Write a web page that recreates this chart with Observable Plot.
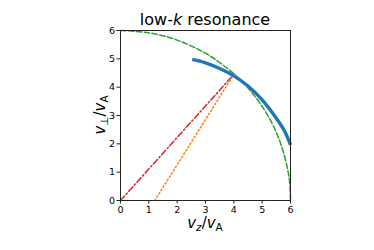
<!DOCTYPE html>
<html><head><meta charset="utf-8">
<script src="https://cdn.jsdelivr.net/npm/d3@7"></script>
<script src="https://cdn.jsdelivr.net/npm/@observablehq/plot@0.6"></script>
<style>body{margin:0;background:#fff;} svg{font-family:"DejaVu Sans",sans-serif;}</style>
</head><body>
<div id="chart"></div>
<script>
const ticks = [0, 1, 2, 3, 4, 5, 6];
const tickLabels = ["0", "1", "2", "3", "4", "5", "6"];
// green dashed quarter circle (vz, vperp)
const circleVz = [0, 1, 2, 3, 3.5, 4, 4.5, 5, 5.4, 5.7, 5.9, 5.97, 6];
const circleVp = [6, 5.92, 5.66, 5.2, 4.87, 4.47, 3.97, 3.32, 2.62, 1.87, 1.09, 0.65, 0];
// blue thick resonance curve
const blueVz = [2.53, 3, 3.5, 4, 4.5, 5, 5.5, 5.8, 6];
const blueVp = [4.98, 4.86, 4.66, 4.4, 4.04, 3.55, 2.9, 2.43, 1.96];
// red dash-dot line
const redVz = [0, 4.0];
const redVp = [0, 4.45];
// orange dotted line
const orangeVz = [1.21, 4.0];
const orangeVp = [0, 4.45];

const pts = (xs, ys) => xs.map((x, i) => ({x, y: ys[i]}));
const fmt = d => tickLabels[ticks.indexOf(d)];

const plot = Plot.plot({
  width: 374, height: 250,
  marginLeft: 120, marginRight: 84, marginTop: 30, marginBottom: 50,
  style: {fontFamily: "DejaVu Sans, sans-serif", fontSize: "9.5px", color: "#000", background: "#fff"},
  x: {domain: [0, 6], label: null},
  y: {domain: [0, 6], label: null},
  marks: [
    Plot.axisX({ticks: ticks, tickFormat: fmt, tickSize: 3.5, tickPadding: 2, label: null, stroke: "#222"}),
    Plot.axisY({ticks: ticks, tickFormat: fmt, tickSize: 3.5, tickPadding: 2, label: null, stroke: "#222"}),
    Plot.line(pts(circleVz, circleVp), {x: "x", y: "y", curve: "catmull-rom", stroke: "#2ca02c", strokeWidth: 1.5, strokeDasharray: "5.5,2.4"}),
    Plot.line(pts(redVz, redVp), {x: "x", y: "y", stroke: "#d62728", strokeWidth: 1.5, strokeDasharray: "6,2.4,1.5,2.4"}),
    Plot.line(pts(orangeVz, orangeVp), {x: "x", y: "y", stroke: "#ff7f0e", strokeWidth: 1.5, strokeDasharray: "1.5,2.4"}),
    Plot.line(pts(blueVz, blueVp), {x: "x", y: "y", curve: "catmull-rom", stroke: "#1f77b4", strokeWidth: 3.4, strokeLinecap: "butt"}),
    Plot.frame({stroke: "#222", strokeWidth: 1})
  ]
});
document.getElementById("chart").appendChild(plot);

const svg = d3.select(plot);
// title
const t = svg.append("text").attr("x", 205).attr("y", 25).attr("text-anchor", "middle")
  .attr("font-size", "16px").attr("fill", "#000");
t.append("tspan").text("low-");
t.append("tspan").attr("font-style", "italic").text("k");
t.append("tspan").text(" resonance");
// x label
const xl = svg.append("text").attr("x", 205).attr("y", 228).attr("text-anchor", "middle")
  .attr("font-size", "15px").attr("fill", "#000");
xl.append("tspan").attr("font-style", "italic").text("v");
xl.append("tspan").attr("font-style", "italic").attr("font-size", "10.5px").attr("dy", 3).text("z");
xl.append("tspan").attr("dy", -3).text("/");
xl.append("tspan").attr("font-style", "italic").text("v");
xl.append("tspan").attr("font-size", "10.5px").attr("dy", 3).text("A");
// y label
const yl = svg.append("text").attr("transform", "translate(105,115) rotate(-90)").attr("text-anchor", "middle")
  .attr("font-size", "15px").attr("fill", "#000");
yl.append("tspan").attr("font-style", "italic").text("v");
yl.append("tspan").attr("font-size", "10.5px").attr("dy", 3).text("⊥");
yl.append("tspan").attr("dy", -3).text("/");
yl.append("tspan").attr("font-style", "italic").text("v");
yl.append("tspan").attr("font-size", "10.5px").attr("dy", 3).text("A");
</script>
</body></html>
